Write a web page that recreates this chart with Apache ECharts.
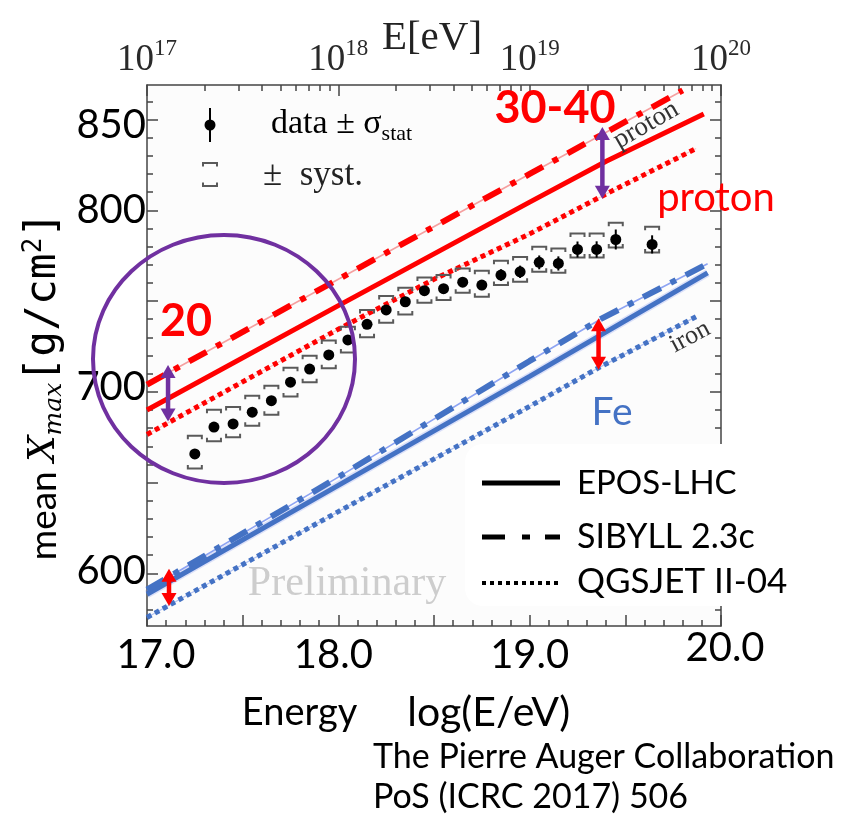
<!DOCTYPE html>
<html><head><meta charset="utf-8">
<script src="https://cdn.jsdelivr.net/npm/echarts@6/dist/echarts.min.js"></script>
<style>html,body{margin:0;padding:0;background:#fff}#c{width:841px;height:816px}</style>
</head><body><div id="c"></div>
<script>
// ---------------- data ----------------
const xTickValues = [17, 18, 19, 20];
const xTickLabels = ['17.0', '18.0', '19.0', '20.0'];
const topTickExponents = ['17', '18', '19', '20'];
const yTickValues = [600, 700, 800, 850];
const yTickLabels = ['600', '700', '800', '850'];
const models = ['EPOS-LHC', 'SIBYLL 2.3c', 'QGSJET II-04'];

const dataLogE = [17.25,17.35,17.45,17.55,17.65,17.75,17.85,17.95,18.05,18.15,18.25,18.35,18.45,18.55,18.65,18.75,18.85,18.95,19.05,19.15,19.25,19.35,19.45,19.64];
const dataXmax = [665.8,680.6,682.3,688.8,695.1,705.3,712.5,720.3,728.6,737.2,745.1,749.6,755.7,756.8,760.4,758.8,764.3,766.1,771.3,770.7,778.4,778.4,783.9,781.2];
const dataStat = [2,2,2,2,2,2,2,2,2,2,2.2,2.3,2.4,2.5,2.6,2.8,3.2,3.4,3.8,3.9,4.4,4.5,5.5,5.0];
const dataSystUp = [10,9.5,9.3,9.0,8.2,7.9,7.3,7.9,7.3,7.9,7.7,7.7,7.3,7.5,7.5,7.9,7.9,8.2,8.6,8.2,8.8,8.8,9.2,9.7];
const dataSystDown = [8,7.9,7.3,7.5,7.7,7.9,7.3,7.3,7.0,7.1,7.0,7.0,6.6,6.2,5.9,6.4,5.5,5.5,5.1,5.1,4.4,4.4,4.4,4.4];

const protonEposLogE = [17.0, 18.0, 19.0, 19.4, 19.91];
const protonEposXmax = [690, 747.5, 804.5, 827, 853];
const protonSibyllLogE = [17.0, 18.0, 19.0, 19.8];
const protonSibyllXmax = [704, 762, 820, 866];
const protonQgsLogE = [17.0, 18.0, 18.5, 19.0, 19.4, 19.87];
const protonQgsXmax = [676.5, 734.5, 762, 787, 809, 834];
const ironEposLogE = [17.0, 18.0, 19.0, 19.93];
const ironEposXmax = [588.5, 648.5, 708.5, 765.5];
const ironSibyllLogE = [17.0, 18.0, 19.0, 19.37, 19.93];
const ironSibyllXmax = [591, 653, 717, 740, 770.5];
const ironQgsLogE = [17.0, 18.0, 19.0, 19.36, 19.87];
const ironQgsXmax = [575.7, 634, 692, 713.2, 741.4];

const arrowLogE = [17.11, 19.38, 19.36, 17.115];
const arrowFrom = [714.8, 845.8, 740.5, 602.6];
const arrowTo = [683.6, 806.4, 712.1, 582.0];

// ---------------- styles ----------------
const RED = '#ff0000', BLUE = '#4472c4', PURPLE = '#7030a0', FRAME = '#444';
const arrowColors = [PURPLE, PURPLE, RED, RED];

function pairs(xs, ys) { return xs.map((x, i) => [x, ys[i]]); }

const bottomMajor = [], bottomMinor = [], topMinor = [], yMajor = [], yMinor = [];
for (let v = 17; v <= 20.001; v += 0.5) bottomMajor.push(+v.toFixed(1));
for (let v = 17.1; v < 20; v += 0.1) bottomMinor.push(+v.toFixed(1));
for (let d = 17; d < 20; d++) for (let k = 2; k <= 9; k++) topMinor.push(d + Math.log10(k));
for (let v = 600; v <= 850; v += 50) yMajor.push(v);
for (let v = 580; v <= 860; v += 10) if (v % 50) yMinor.push(v);

const tickStyle = { color: FRAME, width: 1.5 };
const XMIN = 17, XMAX = 20, YMIN = 571, YMAX = 869;

function xAxisCfg(pos, line, tickVals, len, label) {
  return {
    type: 'value', min: XMIN, max: XMAX, position: pos,
    axisLine: { show: line, onZero: false, lineStyle: { color: FRAME, width: 1.5 } },
    axisTick: { show: true, inside: true, length: len, customValues: tickVals, lineStyle: tickStyle },
    splitLine: { show: false },
    axisLabel: label || { show: false }
  };
}
function yAxisCfg(pos, line, tickVals, len, label) {
  return {
    type: 'value', min: YMIN, max: YMAX, position: pos,
    axisLine: { show: line, onZero: false, lineStyle: { color: FRAME, width: 1.5 } },
    axisTick: { show: true, inside: true, length: len, customValues: tickVals, lineStyle: tickStyle },
    splitLine: { show: false },
    axisLabel: label || { show: false }
  };
}

const bottomLabel = {
  show: true, customValues: xTickValues, margin: 2,
  formatter: v => { const i = xTickValues.indexOf(v); return '{t' + i + '|' + xTickLabels[i] + '}'; },
  rich: {
    t0: { fontFamily: 'Lato', fontSize: 40, color: '#000', lineHeight: 40, padding: [14, 0, 0, 18] },
    t1: { fontFamily: 'Lato', fontSize: 40, color: '#000', lineHeight: 40, padding: [14, 10, 0, 0] },
    t2: { fontFamily: 'Lato', fontSize: 40, color: '#000', lineHeight: 40, padding: [14, 0, 0, 0] },
    t3: { fontFamily: 'Lato', fontSize: 40, color: '#000', lineHeight: 40, padding: [0, 0, 0, 8] }
  }
};
const topLabel = {
  show: true, customValues: xTickValues, margin: 6,
  fontFamily: 'Liberation Serif', fontSize: 36, color: '#2a2a2a',
  formatter: v => { const i = xTickValues.indexOf(v); return '{b|10}{s|' + topTickExponents[i] + '}'; },
  rich: {
    b: { fontFamily: 'Liberation Serif', fontSize: 37, color: '#2a2a2a', lineHeight: 42, verticalAlign: 'bottom' },
    s: { fontFamily: 'Liberation Serif', fontSize: 23, color: '#2a2a2a', lineHeight: 42, verticalAlign: 'top' }
  }
};
const leftLabel = {
  show: true, customValues: yTickValues, margin: 1,
  formatter: v => { const i = yTickValues.indexOf(v); return '{l' + i + '|' + yTickLabels[i] + '}'; },
  rich: {
    l0: { fontFamily: 'Lato', fontSize: 40, color: '#000', padding: [0, 0, 4, 0] },
    l1: { fontFamily: 'Lato', fontSize: 40, color: '#000', padding: [0, 0, 10, 0] },
    l2: { fontFamily: 'Lato', fontSize: 40, color: '#000' },
    l3: { fontFamily: 'Lato', fontSize: 40, color: '#000', padding: [12, 0, 0, 0] }
  }
};

function lineSeries(xs, ys, color, width, type, z) {
  return {
    type: 'line', data: pairs(xs, ys), symbol: 'none', silent: true, z: z || 3,
    lineStyle: { color: color, width: width, type: type, cap: 'butt' }, animation: false
  };
}

const dashDot = [20, 11, 6, 11];
const dots = [5, 4];

const series = [
  // thin companion lines
  lineSeries(protonSibyllLogE, protonSibyllXmax, '#f5a0a0', 1.6, 'solid', 2),
  lineSeries(protonQgsLogE, protonQgsXmax, '#f8c4c4', 1.2, 'solid', 2),
  lineSeries(ironSibyllLogE, ironSibyllXmax, '#8ea4f2', 1.6, 'solid', 2),
  lineSeries(ironQgsLogE, ironQgsXmax, '#b4c4f2', 1.2, 'solid', 2),
  lineSeries(ironEposLogE, ironEposXmax, 'rgba(120,140,240,0.25)', 8, 'solid', 2),
  // main model lines
  lineSeries(protonEposLogE, protonEposXmax, RED, 5, 'solid'),
  lineSeries(protonSibyllLogE, protonSibyllXmax, RED, 6, dashDot),
  lineSeries(protonQgsLogE, protonQgsXmax, RED, 5, dots),
  lineSeries(ironEposLogE, ironEposXmax, BLUE, 5, 'solid'),
  lineSeries(ironSibyllLogE, ironSibyllXmax, BLUE, 6, dashDot),
  lineSeries(ironQgsLogE, ironQgsXmax, BLUE, 5, dots),
  // data points with stat + syst
  {
    type: 'custom', z: 5, silent: true, animation: false,
    data: dataLogE.map((x, i) => [x, dataXmax[i], dataStat[i], dataSystUp[i], dataSystDown[i]]),
    renderItem: (params, api) => {
      const x = api.value(0), y = api.value(1);
      const p = api.coord([x, y]);
      const pu = api.coord([x, y + api.value(3)]);
      const pd = api.coord([x, y - api.value(4)]);
      const s1 = api.coord([x, y + api.value(2)]);
      const s2 = api.coord([x, y - api.value(2)]);
      const hw = 7, tk = 3.5;
      const br = { stroke: '#5a5a5a', lineWidth: 2, fill: null };
      return {
        type: 'group', children: [
          { type: 'polyline', shape: { points: [[p[0] - hw, pu[1] + tk], [p[0] - hw, pu[1]], [p[0] + hw, pu[1]], [p[0] + hw, pu[1] + tk]] }, style: br },
          { type: 'polyline', shape: { points: [[p[0] - hw, pd[1] - tk], [p[0] - hw, pd[1]], [p[0] + hw, pd[1]], [p[0] + hw, pd[1] - tk]] }, style: br },
          { type: 'line', shape: { x1: p[0], y1: s1[1], x2: p[0], y2: s2[1] }, style: { stroke: '#000', lineWidth: 2 } },
          { type: 'circle', shape: { cx: p[0], cy: p[1], r: 5.5 }, style: { fill: '#000' } }
        ]
      };
    }
  },
  // double-headed arrows
  {
    type: 'custom', z: 20, silent: true, animation: false, clip: false,
    data: arrowLogE.map((x, i) => [x, arrowFrom[i], arrowTo[i], i]),
    renderItem: (params, api) => {
      const a = api.coord([api.value(0), api.value(1)]);
      const b = api.coord([api.value(0), api.value(2)]);
      const c = arrowColors[api.value(3)];
      const hw = 7.5, hh = 13;
      return {
        type: 'group', children: [
          { type: 'line', shape: { x1: a[0], y1: a[1] + hh - 1, x2: b[0], y2: b[1] - hh + 1 }, style: { stroke: c, lineWidth: 4.5 } },
          { type: 'polygon', shape: { points: [[a[0], a[1]], [a[0] - hw, a[1] + hh], [a[0] + hw, a[1] + hh]] }, style: { fill: c } },
          { type: 'polygon', shape: { points: [[b[0], b[1]], [b[0] - hw, b[1] - hh], [b[0] + hw, b[1] - hh]] }, style: { fill: c } }
        ]
      };
    }
  }
];

const serif = 'Liberation Serif';
const graphic = [
  // original figure annotations
  { type: 'text', x: 432, y: 38, z: 10, style: { text: 'E[eV]', font: '41px "Liberation Serif"', fill: '#222', align: 'center', verticalAlign: 'middle' } },
  { type: 'text', x: 347, y: 584, z: 1, style: { text: 'Preliminary', font: '42px "Liberation Serif"', fill: '#cdcdcd', align: 'center', verticalAlign: 'middle' } },
  { type: 'text', x: 646, y: 125, z: 10, rotation: 30 * Math.PI / 180, style: { text: 'proton', font: '27px "Liberation Serif"', fill: '#333', align: 'center', verticalAlign: 'middle' } },
  { type: 'text', x: 690, y: 337, z: 10, rotation: 28 * Math.PI / 180, style: { text: 'iron', font: '26px "Liberation Serif"', fill: '#333', align: 'center', verticalAlign: 'middle' } },
  // original data legend
  { type: 'line', z: 10, shape: { x1: 210, y1: 108, x2: 210, y2: 142 }, style: { stroke: '#000', lineWidth: 2 } },
  { type: 'circle', z: 10, shape: { cx: 210, cy: 125, r: 5.5 }, style: { fill: '#000' } },
  { type: 'polyline', z: 10, shape: { points: [[203, 166.5], [203, 163], [217, 163], [217, 166.5]] }, style: { stroke: '#5a5a5a', lineWidth: 2, fill: null } },
  { type: 'polyline', z: 10, shape: { points: [[203, 182.5], [203, 186], [217, 186], [217, 182.5]] }, style: { stroke: '#5a5a5a', lineWidth: 2, fill: null } },
  { type: 'text', x: 271, y: 124, z: 10, style: { text: '{t|data ± σ}{s|stat}', align: 'left', verticalAlign: 'middle',
      rich: { t: { fontFamily: serif, fontSize: 34, color: '#222', lineHeight: 42, verticalAlign: 'middle' }, s: { fontFamily: serif, fontSize: 22, color: '#222', lineHeight: 42, verticalAlign: 'bottom' } } } },
  { type: 'text', x: 263, y: 176, z: 10, style: { text: '±  syst.', font: '35px "Liberation Serif"', fill: '#222', align: 'left', verticalAlign: 'middle' } },
  // slide annotations
  { type: 'ellipse', z: 30, shape: { cx: 224, cy: 359, rx: 131, ry: 124 }, style: { fill: null, stroke: PURPLE, lineWidth: 4 } },
  { type: 'text', x: 555, y: 108, z: 30, style: { text: '30-40', font: 'bold 45px Lato', fill: RED, align: 'center', verticalAlign: 'middle' } },
  { type: 'text', x: 186, y: 321, z: 30, style: { text: '20', font: 'bold 45px Lato', fill: RED, align: 'center', verticalAlign: 'middle' } },
  { type: 'text', x: 716, y: 198, z: 30, style: { text: 'proton', font: '40px Lato', fill: RED, align: 'center', verticalAlign: 'middle' } },
  { type: 'text', x: 612, y: 412, z: 30, style: { text: 'Fe', font: '39px Lato', fill: BLUE, align: 'center', verticalAlign: 'middle' } },
  // legend box
  { type: 'rect', z: 40, shape: { x: 465, y: 444, width: 400, height: 162, r: 18 }, style: { fill: '#fff' } },
  { type: 'line', z: 41, shape: { x1: 482, y1: 483, x2: 560, y2: 483 }, style: { stroke: '#000', lineWidth: 5 } },
  { type: 'line', z: 41, shape: { x1: 482, y1: 537, x2: 560, y2: 537 }, style: { stroke: '#000', lineWidth: 5, lineDash: [23, 17, 8, 15] } },
  { type: 'line', z: 41, shape: { x1: 482, y1: 583, x2: 560, y2: 583 }, style: { stroke: '#000', lineWidth: 4, lineDash: [4, 4] } },
  { type: 'text', x: 577, y: 483, z: 41, style: { text: models[0], font: '33px Lato', fill: '#000', verticalAlign: 'middle' } },
  { type: 'text', x: 577, y: 537, z: 41, style: { text: models[1], font: '34px Lato', fill: '#000', verticalAlign: 'middle' } },
  { type: 'text', x: 577, y: 582, z: 41, style: { text: models[2], font: '35px Lato', fill: '#000', verticalAlign: 'middle' } },
  // axis titles and citation
  { type: 'text', x: 44, y: 386, z: 30, rotation: Math.PI / 2, style: {
      text: '{m|mean }{x|X}{b|max}{u|[g/cm}{p|2}{u|]}', align: 'center', verticalAlign: 'middle',
      rich: {
        m: { fontFamily: 'Lato', fontSize: 37, color: '#000', lineHeight: 46 },
        x: { fontFamily: 'DejaVu Serif', fontStyle: 'italic', fontSize: 37, color: '#000', lineHeight: 46 },
        b: { fontFamily: 'DejaVu Serif', fontStyle: 'italic', fontSize: 25, color: '#000', lineHeight: 46, verticalAlign: 'bottom' },
        u: { fontFamily: 'DejaVu Sans Mono', fontSize: 43, color: '#000', lineHeight: 46 },
        p: { fontFamily: 'DejaVu Sans Mono', fontSize: 26, color: '#000', lineHeight: 46, verticalAlign: 'top' }
      } } },
  { type: 'text', x: 406, y: 713, z: 30, style: { text: '{a|Energy}{g|}{c|log(E/eV)}', align: 'center', verticalAlign: 'middle',
      rich: { a: { fontFamily: 'Lato', fontSize: 38, color: '#000' }, c: { fontFamily: 'Lato', fontSize: 41, color: '#000' }, g: { width: 50 } } } },
  { type: 'text', x: 373, y: 757, z: 30, style: { text: 'The Pierre Auger Collaboration', font: '34px Lato', fill: '#000', verticalAlign: 'middle' } },
  { type: 'text', x: 373, y: 797, z: 30, style: { text: 'PoS (ICRC 2017) 506', font: '34px Lato', fill: '#000', verticalAlign: 'middle' } }
];

const option = {
  animation: false,
  backgroundColor: '#fff',
  grid: { left: 147, right: 120, top: 85, bottom: 190, show: true, borderWidth: 0, backgroundColor: '#fcfcfc' },
  xAxis: [
    xAxisCfg('bottom', true, bottomMajor, 11, bottomLabel),
    xAxisCfg('bottom', false, bottomMinor, 6),
    xAxisCfg('top', true, xTickValues, 11, topLabel),
    xAxisCfg('top', false, topMinor, 6)
  ],
  yAxis: [
    yAxisCfg('left', true, yMajor, 11, leftLabel),
    yAxisCfg('left', false, yMinor, 6),
    yAxisCfg('right', true, yMajor, 11),
    yAxisCfg('right', false, yMinor, 6)
  ],
  series: series,
  graphic: graphic
};

const chart = echarts.init(document.getElementById('c'), null, { renderer: 'canvas' });
chart.setOption(option);
</script></body></html>
